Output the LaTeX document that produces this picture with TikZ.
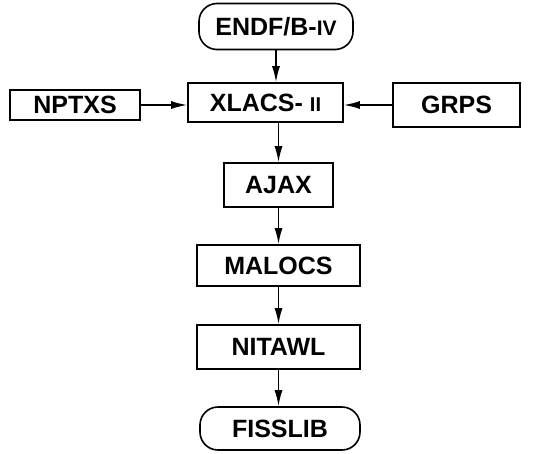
\documentclass[tikz,border=0pt]{standalone}
\usepackage{fontspec}
\setmainfont{Liberation Sans}
\usetikzlibrary{arrows.meta}
\begin{document}
\begin{tikzpicture}[x=1pt,y=-1pt,
  box/.style={draw,line width=1.6pt,inner sep=0pt,font=\fontsize{25}{25}\selectfont\bfseries},
  term/.style={box,rounded corners=18pt},
  arr/.style={line width=1.6pt,-{Latex[length=16pt,width=8pt]}}]
\useasboundingbox (0,0) rectangle (549,453);
\node[term,minimum width=154pt,minimum height=46pt] (endf) at (276,26.5) {ENDF/B-{\fontsize{21}{21}\selectfont IV}};
\node[box,minimum width=155pt,minimum height=39pt] (xlacs) at (265.5,102.5) {XLACS- {\fontsize{20}{20}\selectfont II}};
\node[box,minimum width=130pt,minimum height=30pt] (nptxs) at (75,105) {NPTXS};
\node[box,minimum width=127pt,minimum height=44pt] (grps) at (456.5,105) {GRPS};
\node[box,minimum width=109pt,minimum height=44pt] (ajax) at (278.5,185) {AJAX};
\node[box,minimum width=163pt,minimum height=41pt] (malocs) at (278.5,265.5) {MALOCS};
\node[box,minimum width=163pt,minimum height=44pt] (nitawl) at (278.5,347) {NITAWL};
\node[term,minimum width=160pt,minimum height=43pt] (fiss) at (280,428.5) {FISSLIB};
\draw[arr] (endf.south) -- (endf.south |- xlacs.north);
\draw[arr] (nptxs.east) -- (xlacs.west |- nptxs.east);
\draw[arr] (grps.west) -- (xlacs.east |- grps.west);
\draw[arr] (ajax.north |- xlacs.south) -- (ajax.north);
\draw[arr] (ajax.south) -- (malocs.north);
\draw[arr] (malocs.south) -- (nitawl.north);
\draw[arr] (nitawl.south) -- (nitawl.south |- fiss.north);
\end{tikzpicture}
\end{document}
